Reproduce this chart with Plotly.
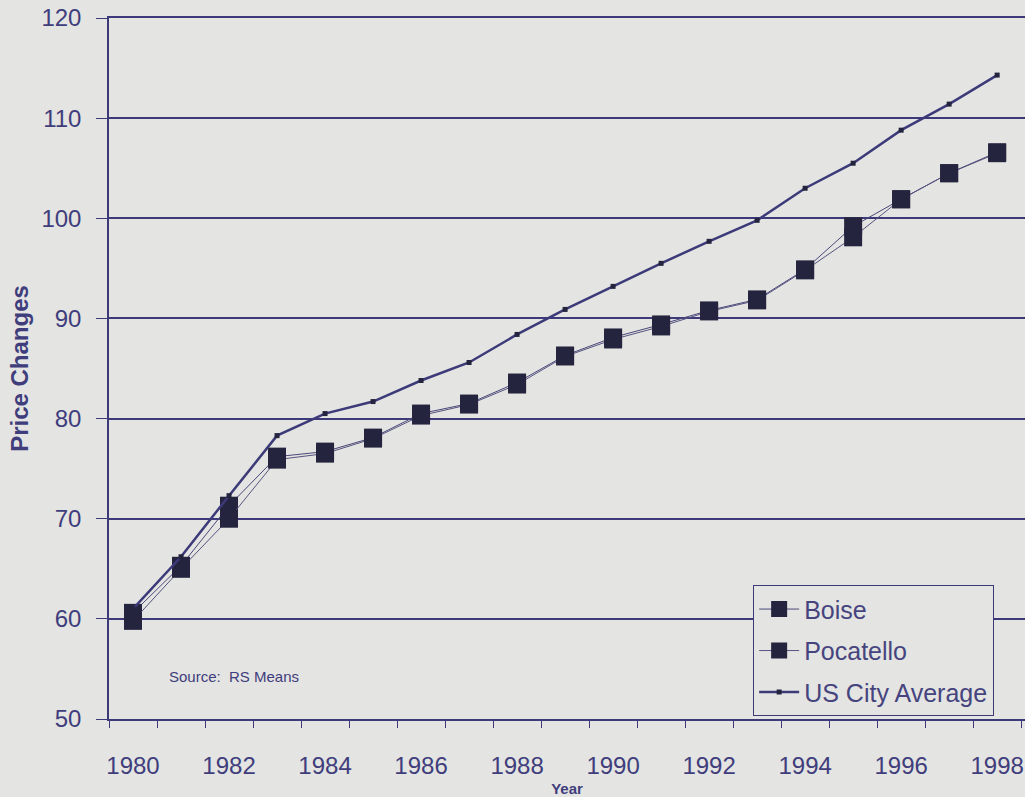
import plotly.graph_objects as go

# Construction cost index, 1980-1998
years = list(range(1980, 1999))
boise = [60.6, 65.3, 71.3, 76.2, 76.7, 78.1, 80.5, 81.5, 83.6, 86.3, 88.1, 89.4,
         90.8, 91.9, 94.9, 99.2, 101.9, 104.5, 106.6]
pocatello = [59.8, 65.0, 70.0, 75.9, 76.5, 78.0, 80.3, 81.4, 83.4, 86.2, 87.9, 89.2,
             90.7, 91.8, 94.8, 98.1, 101.9, 104.5, 106.5]
us_city_avg = [61.0, 66.2, 72.3, 78.3, 80.5, 81.7, 83.8, 85.6, 88.4, 90.9, 93.2, 95.5,
               97.7, 99.8, 103.0, 105.5, 108.8, 111.4, 114.3]

y_ticks = [50, 60, 70, 80, 90, 100, 110, 120]
x_labels = [str(y) for y in range(1980, 1999, 2)]

NAVY = "#3c3a78"
TEXT = "#3f3d7c"
MARK = "#24243e"
BG = "#e4e4e2"
FONT = "Liberation Sans, Arial"

fig = go.Figure()

fig.add_trace(go.Scatter(
    x=years, y=boise, name="Boise", mode="lines+markers", legendgroup="b",
    line=dict(color="#4a4878", width=1),
    marker=dict(symbol="square", size=18, color=MARK),
))
fig.add_trace(go.Scatter(
    x=years, y=pocatello, name="Pocatello", mode="lines+markers", legendgroup="p",
    line=dict(color="#55537f", width=1),
    marker=dict(symbol="square", size=18, color=MARK),
))
fig.add_trace(go.Scatter(
    x=years, y=us_city_avg, name="US City Average", mode="lines+markers", legendgroup="u",
    line=dict(color=NAVY, width=2.5),
    marker=dict(symbol="square", size=5, color=MARK),
))

fig.add_annotation(
    text="Source:  RS Means", xref="paper", yref="paper",
    x=0.063, y=0.06, xanchor="left", yanchor="middle", showarrow=False,
    font=dict(family=FONT, size=15, color=TEXT),
)

fig.update_layout(
    width=1025, height=797,
    margin=dict(l=109, r=0, t=18, b=78),
    paper_bgcolor=BG, plot_bgcolor=BG,
    font=dict(family=FONT, color=TEXT),
    showlegend=True,
    legend=dict(
        x=0.703, y=0.191, xanchor="left", yanchor="top",
        bgcolor=BG, bordercolor=NAVY, borderwidth=1.2,
        font=dict(size=25, color="#46447e"),
        itemwidth=40, tracegroupgap=6, traceorder="grouped",
    ),
    xaxis=dict(
        range=[1979.5, 1998.58],
        tickmode="array",
        tickvals=list(range(1980, 1999, 2)),
        ticktext=x_labels,
        ticks="",
        tickfont=dict(size=24, color=TEXT),
        ticklabelstandoff=24,
        showgrid=False, zeroline=False,
        showline=True, linecolor=NAVY, linewidth=1.5, mirror=True,
        minor=dict(
            tickmode="array",
            tickvals=[y + 0.5 for y in range(1979, 1999)],
            ticks="outside", ticklen=7, tickwidth=1.3, tickcolor=NAVY,
            showgrid=False,
        ),
        title=dict(text="<b>Year</b>", font=dict(size=15, color=TEXT), standoff=6),
    ),
    yaxis=dict(
        range=[50, 120],
        tickmode="array",
        tickvals=y_ticks,
        ticks="outside", ticklen=11, tickwidth=1.3, tickcolor=NAVY,
        tickfont=dict(size=24, color=TEXT),
        ticklabelstandoff=10,
        showgrid=True, gridcolor=NAVY, gridwidth=1.5,
        zeroline=False,
        showline=True, linecolor=NAVY, linewidth=1.5,
        title=dict(text="<b>Price Changes</b>", font=dict(size=24, color=TEXT), standoff=6),
    ),
)

fig.write_html("out.html")
